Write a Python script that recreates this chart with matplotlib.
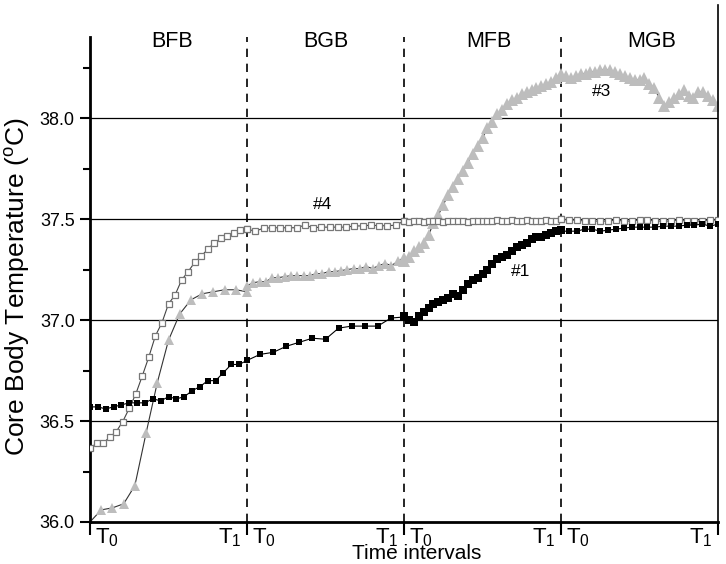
import numpy as np
import matplotlib.pyplot as plt

plt.rcParams['font.family'] = ['Liberation Sans', 'DejaVu Sans']
plt.rcParams['mathtext.fontset'] = 'custom'
plt.rcParams['mathtext.rm'] = 'Liberation Sans'

# interval names (x axis: one unit per interval)
intervals = ['BFB', 'BGB', 'MFB', 'MGB']

# subject #1 (filled black squares)
s1_bfb = [36.57, 36.57, 36.56, 36.57, 36.58, 36.59, 36.59, 36.59, 36.61, 36.60, 36.62,
          36.61, 36.62, 36.65, 36.67, 36.70, 36.70, 36.74, 36.78, 36.78, 36.80]
s1_bgb = [36.80, 36.83, 36.84, 36.87, 36.89, 36.91, 36.905, 36.96, 36.97, 36.97, 36.97,
          37.01, 37.015]
s1_mfb = [37.02, 37.00, 36.99, 37.02, 37.04, 37.06, 37.08, 37.09, 37.10, 37.11, 37.13,
          37.12, 37.15, 37.18, 37.20, 37.21, 37.23, 37.25, 37.28, 37.30, 37.31, 37.32,
          37.34, 37.36, 37.37, 37.38, 37.40, 37.41, 37.41, 37.42, 37.43, 37.44, 37.445]
s1_mgb = [37.44, 37.44, 37.44, 37.45, 37.45, 37.44, 37.445, 37.45, 37.455, 37.46, 37.46,
          37.46, 37.46, 37.465, 37.465, 37.465, 37.47, 37.47, 37.475, 37.465, 37.475]

# subject #4 (open squares)
s4_bfb = [36.365, 36.39, 36.39, 36.42, 36.447, 36.497, 36.563, 36.634, 36.724, 36.818,
          36.922, 36.987, 37.08, 37.124, 37.198, 37.24, 37.285, 37.317, 37.35, 37.383,
          37.404, 37.416, 37.432, 37.446, 37.449]
s4_bgb = [37.45, 37.44, 37.455, 37.457, 37.457, 37.457, 37.457, 37.47, 37.457, 37.46,
          37.46, 37.46, 37.46, 37.466, 37.466, 37.47, 37.467, 37.467, 37.47, 37.49]
s4_mfb = [37.49, 37.485, 37.49, 37.49, 37.485, 37.49, 37.49, 37.49, 37.485, 37.49, 37.49,
          37.49, 37.49, 37.485, 37.49, 37.49, 37.49, 37.49, 37.49, 37.495, 37.49, 37.49,
          37.495, 37.49, 37.49, 37.495, 37.49, 37.49, 37.49, 37.495, 37.49, 37.49, 37.50]
s4_mgb = [37.50, 37.495, 37.495, 37.49, 37.49, 37.49, 37.49, 37.495, 37.49, 37.49, 37.495,
          37.495, 37.49, 37.49, 37.49, 37.495, 37.49, 37.49, 37.49, 37.495, 37.495]

# subject #3 (grey triangles)
s3_bfb = [36.00, 36.06, 36.07, 36.09, 36.18, 36.44, 36.69, 36.90, 37.03, 37.10, 37.13,
          37.14, 37.15, 37.15, 37.14]
s3_bgb = [37.17, 37.185, 37.19, 37.19, 37.21, 37.21, 37.215, 37.22, 37.22, 37.22, 37.22,
          37.23, 37.23, 37.24, 37.24, 37.245, 37.25, 37.255, 37.255, 37.265, 37.255,
          37.27, 37.28, 37.27, 37.29, 37.31]
s3_mfb = [37.29, 37.31, 37.34, 37.36, 37.38, 37.42, 37.48, 37.52, 37.57, 37.62, 37.66,
          37.70, 37.74, 37.78, 37.82, 37.86, 37.90, 37.95, 37.98, 38.02, 38.04, 38.07,
          38.09, 38.10, 38.12, 38.13, 38.14, 38.15, 38.16, 38.17, 38.18, 38.20, 38.22]
s3_mgb = [38.21, 38.21, 38.20, 38.21, 38.22, 38.22, 38.23, 38.23, 38.24, 38.24, 38.24,
          38.23, 38.22, 38.21, 38.20, 38.19, 38.19, 38.20, 38.17, 38.15, 38.10, 38.06,
          38.08, 38.10, 38.12, 38.14, 38.11, 38.10, 38.13, 38.13, 38.11, 38.09, 38.06]


def xs(k, vals):
    # spread the samples of one interval evenly over [k, k+1]
    return np.linspace(k, k + 1, len(vals))


fig = plt.figure(figsize=(7.26, 5.64), dpi=100)
ax = fig.add_axes([90 / 726, 1 - 522 / 564, 628 / 726, 517 / 564])

ytop = 38.4
ax.set_xlim(0, 4)
ax.set_ylim(36.0, 38.56)

# horizontal reference lines and interval dividers
for yv in [36.5, 37.0, 37.5, 38.0]:
    ax.axhline(yv, color='black', lw=0.9, zorder=1)
ax.vlines([1, 2, 3], 36.0, ytop, colors='black', linestyles=(0, (5, 4)), lw=1.2, zorder=1)


def draw(segs, line_color, zo, **mk):
    allx = np.concatenate([xs(k, v) for k, v in enumerate(segs)])
    ally = np.concatenate(segs)
    ax.plot(allx, ally, color=line_color, lw=0.8, zorder=zo)
    for k, v in enumerate(segs):
        size = mk['ms_dense'] if len(v) > 30 else mk['ms']
        ax.plot(xs(k, v), v, ls='none', marker=mk['marker'], ms=size,
                mfc=mk['mfc'], mec=mk['mec'], mew=mk['mew'], zorder=zo + 0.5)


draw([s3_bfb, s3_bgb, s3_mfb, s3_mgb], '#333333', 2,
     marker='^', ms=6.5, ms_dense=9, mfc='#bdbdbd', mec='#bdbdbd', mew=0)
draw([s4_bfb, s4_bgb, s4_mfb, s4_mgb], '#444444', 3,
     marker='s', ms=5, ms_dense=5, mfc='white', mec='#777777', mew=0.9)
draw([s1_bfb, s1_bgb, s1_mfb, s1_mgb], 'black', 4,
     marker='s', ms=4.5, ms_dense=5.5, mfc='black', mec='black', mew=0)

# spines
ax.spines['top'].set_visible(False)
ax.spines['left'].set_bounds(36.0, ytop)
ax.spines['left'].set_linewidth(2)
ax.spines['bottom'].set_linewidth(2)
ax.spines['right'].set_linewidth(1.2)

ax.set_yticks(np.arange(36.0, 38.01, 0.5))
ax.set_yticks(np.arange(36.25, 38.3, 0.5), minor=True)
ax.set_yticklabels(['%.1f' % v for v in np.arange(36.0, 38.01, 0.5)], fontsize=13)
ax.tick_params(axis='y', which='major', direction='out', length=7, width=1.5, pad=4)
ax.tick_params(axis='y', which='minor', direction='out', length=5, width=1.5)
ax.tick_params(axis='y', right=False)
ax.set_xticks([0, 1, 2, 3, 4])
ax.set_xticklabels([])
ax.tick_params(axis='x', direction='out', length=9, width=1.5)

tr = ax.get_xaxis_transform()
for k in range(4):
    ax.text(k + 0.035, -0.008, r'$\mathregular{T_0}$', transform=tr, fontsize=16,
            ha='left', va='top')
    ax.text(k + 0.965, -0.008, r'$\mathregular{T_1}$', transform=tr, fontsize=16,
            ha='right', va='top')
ax.text(2.08, -0.042, 'Time intervals', transform=tr, fontsize=15, ha='center', va='top')

# interval names across the top
name_x = [0.525, 1.5, 2.54, 3.58]
for nx, name in zip(name_x, intervals):
    ax.text(nx, 38.38, name, fontsize=15.5, ha='center', va='center')

# subject labels
ax.text(1.48, 37.57, '#4', fontsize=12.5, ha='center', va='center')
ax.text(3.26, 38.13, '#3', fontsize=12.5, ha='center', va='center')
ax.text(2.74, 37.24, '#1', fontsize=12.5, ha='center', va='center')

fig.text(17 / 726, 1 - 287 / 564, r'Core Body Temperature ($^{\mathregular{o}}$C)',
         rotation=90, fontsize=19, ha='center', va='center')

fig.savefig('out.png', dpi=100)
